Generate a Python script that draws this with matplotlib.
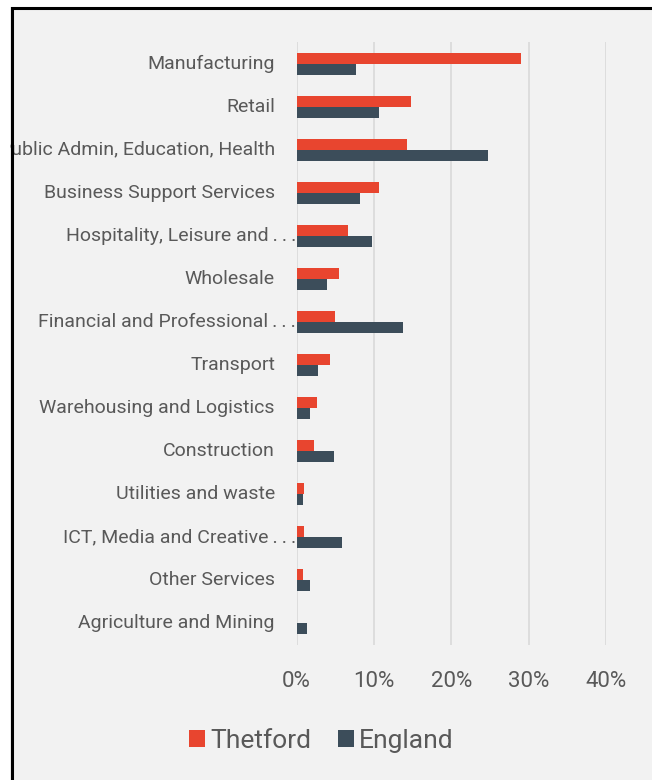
import numpy as np
import matplotlib
matplotlib.use("Agg")
import matplotlib.pyplot as plt
import matplotlib.ticker as ticker
import matplotlib.transforms as mtransforms
from matplotlib.patches import Rectangle

plt.rcParams['font.family'] = ['Roboto', 'DejaVu Sans']

# share of employment by sector, percent
ELL = '\u2009.\u2009.\u2009.'
sectors = [
    "Manufacturing",
    "Retail",
    "Public Admin, Education, Health",
    "Business Support Services",
    "Hospitality, Leisure and" + ELL,
    "Wholesale",
    "Financial and Professional" + ELL,
    "Transport",
    "Warehousing and Logistics",
    "Construction",
    "Utilities and waste",
    "ICT, Media and Creative" + ELL,
    "Other Services",
    "Agriculture and Mining",
]
thetford = [29.0, 14.8, 14.3, 10.7, 6.7, 5.5, 5.0, 4.3, 2.7, 2.3, 1.0, 1.0, 0.8, 0.0]
england = [7.7, 10.7, 24.7, 8.2, 9.8, 4.0, 13.7, 2.8, 1.8, 4.8, 0.9, 5.9, 1.7, 1.3]
xticks = [0, 10, 20, 30, 40]

RED = '#e8452f'
SLATE = '#3c4d5a'
BG = '#f2f2f2'
TXT = '#595959'

W, H = 652, 780
fig = plt.figure(figsize=(W / 100, H / 100), dpi=100, facecolor=BG)
ax = fig.add_axes([296.5 / W, 1 - 645 / H, (606 - 296.5) / W, (645 - 42) / H])
ax.set_facecolor(BG)

y = np.arange(len(sectors))
h = 0.255
ax.barh(y - h / 2, thetford, height=h, color=RED, label='Thetford', zorder=3)
ax.barh(y + h / 2, england, height=h, color=SLATE, label='England', zorder=3)

ax.set_ylim(len(sectors) - 0.5, -0.5)
ax.set_xlim(0, 40)
ax.set_xticks(xticks)
ax.xaxis.set_major_formatter(ticker.FuncFormatter(lambda v, pos: f"{v:.0f}%"))
ax.set_yticks(y)
ax.set_yticklabels(sectors)

ax.grid(axis='x', color='#d9d9d9', linewidth=1.2, zorder=0)
ax.set_axisbelow(True)
for s in ax.spines.values():
    s.set_visible(False)
ax.tick_params(axis='y', length=0, pad=15.5, labelsize=14, labelcolor=TXT)
ax.tick_params(axis='x', length=0, pad=19, labelsize=16, labelcolor=TXT)

# nudge labels up a touch; truncated ones run right up to the axis
for lab in ax.get_yticklabels():
    dx = 21 if lab.get_text().endswith('.') else 0
    off = mtransforms.ScaledTranslation(dx / 100, 2 / 100, fig.dpi_scale_trans)
    lab.set_transform(lab.get_transform() + off)

leg = fig.legend(loc='center', bbox_to_anchor=(0.493, 1 - 741 / H), ncol=2,
                 frameon=False, fontsize=19, handlelength=0.61, handleheight=0.61,
                 handletextpad=0.19, columnspacing=1.0)
for t in leg.get_texts():
    t.set_color(TXT)

# white margin and black frame on the left and top
fig.add_artist(Rectangle((0, 0), 10 / W, 1, transform=fig.transFigure,
                         facecolor='white', edgecolor='none', zorder=20))
fig.add_artist(Rectangle((0, 1 - 7 / H), 1, 7 / H, transform=fig.transFigure,
                         facecolor='white', edgecolor='none', zorder=20))
fig.add_artist(Rectangle((11.5 / W, -0.1), 1.2, 1.1 - 8.5 / H, transform=fig.transFigure,
                         facecolor='none', edgecolor='black', linewidth=2.2, zorder=21))

fig.savefig('out.png', dpi=100, facecolor=BG)
